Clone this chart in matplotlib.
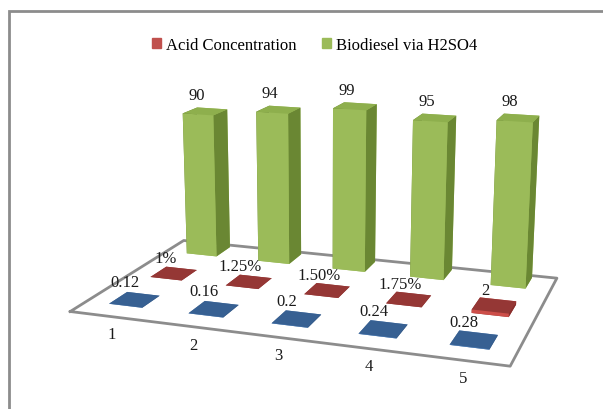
import numpy as np
import matplotlib
matplotlib.use('Agg')
import matplotlib.pyplot as plt
from matplotlib.patches import Patch, Rectangle
from mpl_toolkits.mplot3d import proj3d

# 数据
categories = [1, 2, 3, 4, 5]
first_vals = [0.12, 0.16, 0.2, 0.24, 0.28]          # 前排蓝色, 不进图例
first_labels = ['0.12', '0.16', '0.2', '0.24', '0.28']
acid_vals = [0.01, 0.0125, 0.015, 0.0175, 2]
acid_labels = ['1%', '1.25%', '1.50%', '1.75%', '2']
biodiesel_vals = [90, 94, 99, 95, 98]
biodiesel_labels = ['90', '94', '99', '95', '98']

# 地板范围
floor_x = (0.5, 5.5)
floor_y = (-0.57, 2.29)
bar_w = 0.42

# 面颜色: bottom, top, front(-y), back(+y), left(-x), right(+x)
blue_faces = ['#376092', '#376092', '#4F81BD', '#4F81BD', '#2C4D75', '#2C4D75']
red_faces = ['#953735', '#953735', '#CD4E49', '#CD4E49', '#8A2E2C', '#8A2E2C']
green_faces = ['#9BBB59', '#8EAF4D', '#9BBB59', '#9BBB59', '#6A8733', '#6A8733']

plt.rcParams['font.family'] = 'Liberation Serif'
txt_kw = dict(fontsize=12, color='#1a1a1a', ha='center', va='center')

fig = plt.figure(figsize=(6.03, 4.10), dpi=100)
S = 530
ax = fig.add_axes([51 / 603, -73 / 410, S / 603, S / 410], projection='3d',
                  computed_zorder=False)
ax.set_proj_type('persp', focal_length=0.44)
ax.view_init(elev=15, azim=-71)
ax.set_box_aspect((1, 0.6, 0.41), zoom=0.982)
ax.set_xlim(*floor_x)
ax.set_ylim(*floor_y)
ax.set_zlim(0, 100)
ax.set_axis_off()

# 地板轮廓
fx = [floor_x[0], floor_x[1], floor_x[1], floor_x[0], floor_x[0]]
fy = [floor_y[0], floor_y[0], floor_y[1], floor_y[1], floor_y[0]]
ax.plot(fx, fy, [0] * 5, color='#8c8c8c', lw=2, zorder=1)

# 柱子 (一次画完, 面排序才正确)
xs, ys, dz, cols = [], [], [], []
for vals, row, faces in [(first_vals, 0, blue_faces),
                         (acid_vals, 1, red_faces),
                         (biodiesel_vals, 2, green_faces)]:
    for c, v in zip(categories, vals):
        xs.append(c - bar_w / 2)
        ys.append(row - bar_w / 2)
        dz.append(v)
        cols.extend(faces)
ax.bar3d(xs, ys, np.zeros(len(xs)), bar_w, bar_w, dz, color=cols,
         shade=False, zorder=2)


# 3D 点投影到 2D 再加像素偏移写标签
def label3d(x, y, z, s, dx, dy):
    px, py, _ = proj3d.proj_transform(x, y, z, ax.get_proj())
    ax.annotate(s, xy=(px, py), xycoords='data', xytext=(dx, dy),
                textcoords='offset points', zorder=5, **txt_kw)


for c, v, lab in zip(categories, first_vals, first_labels):
    label3d(c, 0, v, lab, -7, 13)
for c, v, lab in zip(categories, acid_vals, acid_labels):
    label3d(c, 1, v, lab, -6, 11)
for c, v, lab in zip(categories, biodiesel_vals, biodiesel_labels):
    label3d(c, 2, v, lab, -6, 12)

# 类别标签
for c in categories:
    label3d(c, floor_y[0], 0, str(c), 1, -13)

# 图例
handles = [Patch(color='#C0504D', label='Acid Concentration'),
           Patch(color='#9BBB59', label='Biodiesel via H2SO4')]
fig.legend(handles=handles, loc='center', bbox_to_anchor=(0.522, 0.888), ncol=2,
           frameon=False, fontsize=12, handlelength=0.55, handleheight=0.5,
           handletextpad=0.3, columnspacing=1.5)

# 图表边框 (只看得见上边和左边)
fig.patches.append(Rectangle((9 / 603, -0.1), 1.2, 1.1 - 12 / 410,
                             transform=fig.transFigure, fill=False,
                             edgecolor='#8c8c8c', lw=2))

fig.savefig('out.png', dpi=100)
